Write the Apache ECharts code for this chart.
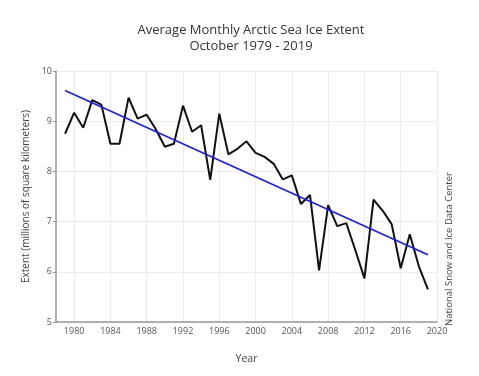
<!DOCTYPE html>
<html>
<head>
<meta charset="utf-8">
<script src="https://cdn.jsdelivr.net/npm/echarts@6/dist/echarts.min.js"></script>
<style>html,body{margin:0;padding:0;background:#fff}#c{width:479px;height:376px}</style>
</head>
<body>
<div id="c"></div>
<script>
const years = [1979,1980,1981,1982,1983,1984,1985,1986,1987,1988,1989,1990,1991,1992,1993,1994,1995,1996,1997,1998,1999,2000,2001,2002,2003,2004,2005,2006,2007,2008,2009,2010,2011,2012,2013,2014,2015,2016,2017,2018,2019];
const extent = [8.75,9.17,8.87,9.42,9.33,8.55,8.55,9.47,9.05,9.13,8.84,8.49,8.55,9.31,8.79,8.92,7.83,9.15,8.34,8.45,8.60,8.37,8.29,8.15,7.84,7.92,7.35,7.53,6.03,7.33,6.91,6.97,6.43,5.87,7.44,7.22,6.95,6.07,6.75,6.11,5.65];
const trendYears = [1979, 2019];
const trendValues = [9.61, 6.34];
const xTicks = [1980,1984,1988,1992,1996,2000,2004,2008,2012,2016,2020];
const yTicks = [5,6,7,8,9,10];

const font = '"Open Sans", "Noto Sans", sans-serif';
const chart = echarts.init(document.getElementById('c'), null, {renderer: 'canvas'});
chart.setOption({
  animation: false,
  backgroundColor: '#fff',
  title: {
    text: 'Average Monthly Arctic Sea Ice Extent\nOctober 1979 - 2019',
    left: 246, top: 17, textAlign: 'center',
    textStyle: {fontFamily: font, fontSize: 13, fontWeight: 'normal', color: '#333', lineHeight: 16}
  },
  grid: {left: 56, right: 42, top: 71, bottom: 54, containLabel: false},
  xAxis: {
    type: 'value', min: 1978, max: 2020,
    name: 'Year', nameLocation: 'middle', nameGap: 32,
    nameTextStyle: {fontFamily: font, fontSize: 10.5, color: '#444'},
    axisLine: {show: true, lineStyle: {color: '#999', width: 1.5}},
    axisTick: {show: false, customValues: xTicks},
    axisLabel: {customValues: xTicks, fontFamily: font, fontSize: 9, color: '#555', margin: 5, formatter: v => String(v)},
    splitLine: {show: true, lineStyle: {color: '#ececec', width: 1}}
  },
  yAxis: {
    type: 'value', min: 5, max: 10, interval: 1,
    name: 'Extent (millions of square kilometers)', nameLocation: 'middle', nameGap: 23,
    nameTextStyle: {fontFamily: font, fontSize: 10, color: '#444'},
    axisLine: {show: true, lineStyle: {color: '#999', width: 1.5}},
    axisTick: {show: true, length: 3, lineStyle: {color: '#999'}},
    axisLabel: {fontFamily: font, fontSize: 9, color: '#555', margin: 4},
    splitLine: {show: true, lineStyle: {color: '#ececec', width: 1}}
  },
  graphic: [{
    type: 'text', x: 449, y: 249, rotation: Math.PI / 2,
    style: {text: 'National Snow and Ice Data Center', fontFamily: font, fontSize: 9.5, fill: '#444', align: 'center', verticalAlign: 'middle'}
  }],
  series: [{
    type: 'line', data: years.map((y, i) => [y, extent[i]]),
    showSymbol: false, lineStyle: {color: '#111', width: 2}, z: 2
  }, {
    type: 'line', data: trendYears.map((y, i) => [y, trendValues[i]]),
    showSymbol: false, lineStyle: {color: '#1a1aff', width: 1.6}, z: 3
  }]
});
</script>
</body>
</html>
